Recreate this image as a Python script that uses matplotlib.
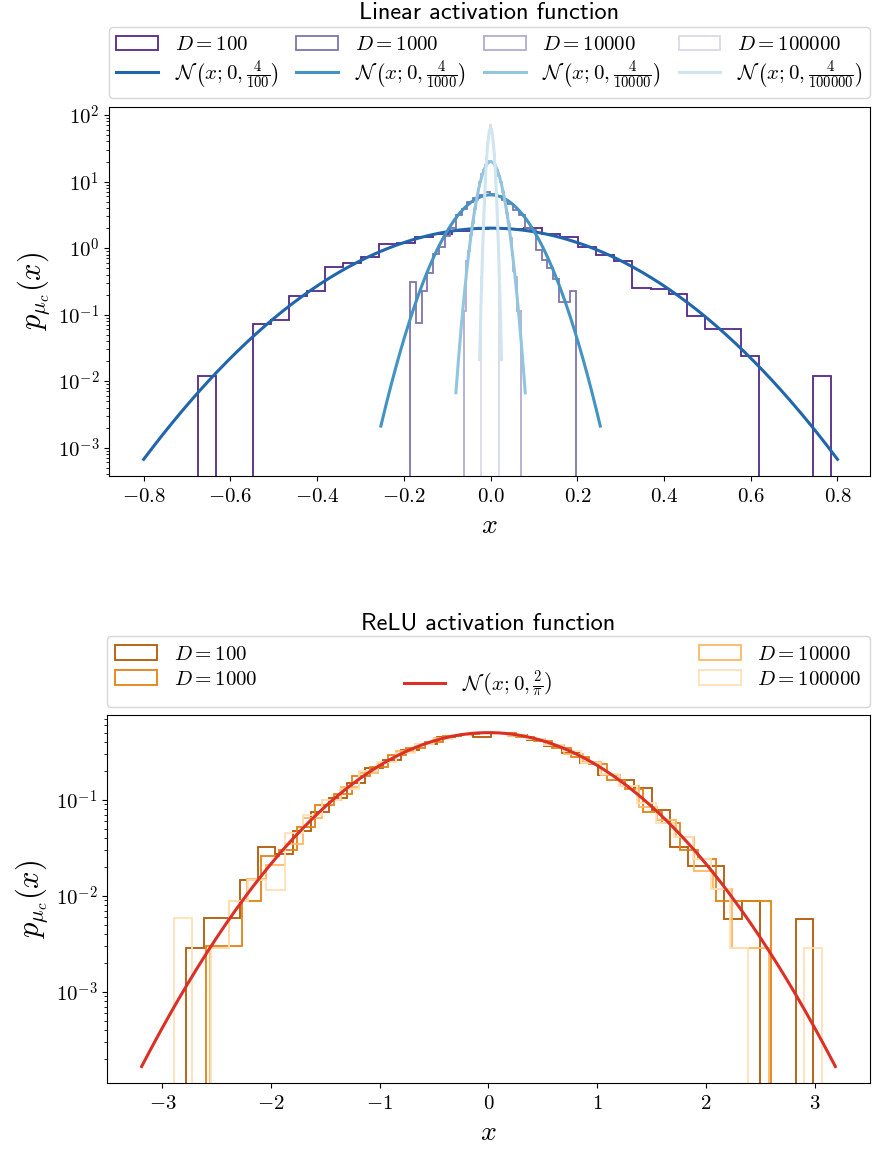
import numpy as np
import matplotlib
matplotlib.use('Agg')
from matplotlib import pyplot as plt
from matplotlib.lines import Line2D
from matplotlib.ticker import FuncFormatter, NullFormatter

plt.rcParams['mathtext.fontset'] = 'cm'
plt.rcParams['font.size'] = 15

dim_labels = ['100', '1000', '10000', '100000']

# Linear activation: histogram ranges and densities
linear_ranges = [(-0.674, 0.786), (-0.185, 0.197), (-0.0605, 0.070), (-0.0221, 0.0200)]
linear_d100 = [0.0119, 0, 0, 0.0723, 0.083, 0.190, 0.226, 0.513, 0.604, 0.743,
               1.15, 1.20, 1.45, 1.63, 1.80, 1.95, 2.0, 1.95, 1.98, 1.61,
               1.47, 1.05, 0.778, 0.64, 0.248, 0.24, 0.204, 0.095, 0.060, 0.060,
               0.024, 0, 0, 0, 0.012]
linear_d1000 = [0.305, 0.076, 0.229, 0.42, 0.81, 1.05, 1.5, 1.98, 3.1, 3.9,
                5.0, 5.6, 6.3, 7.0, 6.6, 6.0, 5.3, 4.6, 3.7, 3.1,
                2.0, 1.9, 0.94, 0.66, 0.50, 0.343, 0.153, 0.153, 0.229]
linear_d10000 = [0.115, 0.63, 0.9, 1.6, 2.4, 3.9, 5.3, 7.7, 9.8, 12.8,
                 15.0, 17.6, 18.8, 20.3, 19.5, 18.9, 16.8, 14.9, 12.0, 9.7,
                 7.0, 5.2, 3.4, 2.3, 1.4, 0.8, 0.46, 0.37, 0.115, 0.115]
linear_d100000 = [0.368, 0.368, 0.74, 1.5, 2.6, 4.4, 6.6, 11.0, 15.4, 22.4,
                  29.0, 37.5, 45.0, 54.0, 58.0, 63.0, 72.0, 61.0, 56.5, 49.0,
                  42.0, 33.0, 25.8, 18.4, 13.2, 8.8, 5.5, 3.3, 1.8, 1.1, 0.368]
linear_hists = [linear_d100, linear_d1000, linear_d10000, linear_d100000]
linear_variances = [0.04, 0.004, 0.0004, 0.00004]

# ReLU activation
relu_ranges = [(-2.785, 2.99), (-2.60, 2.60), (-2.56, 2.58), (-2.898, 3.073)]
relu_d100 = [0.0029, 0.0059, 0.0059, 0.0147, 0.032, 0.027, 0.047, 0.074, 0.105, 0.150,
             0.215, 0.26, 0.33, 0.38, 0.45, 0.47, 0.445, 0.49, 0.47, 0.42,
             0.36, 0.305, 0.24, 0.18, 0.162, 0.132, 0.079, 0.032, 0.0203, 0.0203,
             0.0058, 0.0088, 0, 0, 0.0058]
relu_d1000 = [0.0030, 0.0030, 0.0089, 0.026, 0.030, 0.052, 0.088, 0.115, 0.175, 0.22,
              0.29, 0.345, 0.40, 0.46, 0.48, 0.50, 0.49, 0.45, 0.41, 0.345,
              0.28, 0.235, 0.16, 0.13, 0.075, 0.058, 0.030, 0.024, 0.0089, 0.0089,
              0.0089]
relu_d10000 = [0.0029, 0.0088, 0.015, 0.021, 0.035, 0.065, 0.10, 0.135, 0.19, 0.245,
               0.32, 0.38, 0.44, 0.47, 0.49, 0.50, 0.46, 0.43, 0.37, 0.30,
               0.25, 0.18, 0.14, 0.085, 0.062, 0.041, 0.018, 0.0117, 0.0029, 0.0029]
relu_d100000 = [0.0059, 0, 0.0029, 0.0088, 0.0147, 0.0115, 0.045, 0.07, 0.10, 0.13,
                0.20, 0.25, 0.31, 0.385, 0.43, 0.475, 0.49, 0.50, 0.47, 0.425,
                0.37, 0.32, 0.24, 0.185, 0.14, 0.092, 0.058, 0.041, 0.024, 0.0117,
                0.0029, 0, 0, 0, 0.0029]
relu_hists = [relu_d100, relu_d1000, relu_d10000, relu_d100000]
relu_variance = 0.6366

hist_purples = ['#542788', '#8073ac', '#b2abd2', '#d8daeb']
curve_blues = ['#2166ac', '#4393c3', '#92c5de', '#d1e5f0']
hist_oranges = ['#b35806', '#e08214', '#fdb863', '#fee0b6']
curve_red = '#dc2f26'


def gaussian(variance):
    sd = np.sqrt(variance)
    x = np.linspace(-4 * sd, 4 * sd, 300)
    y = np.exp(-x ** 2 / (2 * variance)) / np.sqrt(2 * np.pi * variance)
    return x, y


def draw_hist(ax, heights, lo, hi, color, label):
    edges = np.linspace(lo, hi, len(heights) + 1)
    _, _, patches = ax.hist(edges[:-1], bins=edges, weights=heights,
                            histtype='step', color=color, linewidth=1.3,
                            log=True, label=label)
    return patches[0]


def style_axes(ax, fmt):
    ax.xaxis.set_major_formatter(FuncFormatter(lambda v, p: fmt % v))
    ax.yaxis.set_major_formatter(
        FuncFormatter(lambda v, p: r'$10^{%d}$' % round(np.log10(v))))
    ax.yaxis.set_minor_formatter(NullFormatter())
    ax.set_xlabel(r'$x$', fontsize=20)
    ax.set_ylabel(r'$p_{\mu_c}(x)$', fontsize=22)


fig = plt.figure(figsize=(8.72, 11.53), dpi=100)
ax1 = fig.add_axes([0.125, 0.5872, 0.8727, 0.32])
ax2 = fig.add_axes([0.1227, 0.0607, 0.875, 0.319])

# top panel
hist_handles = []
for heights, (lo, hi), color, lab in zip(linear_hists, linear_ranges, hist_purples, dim_labels):
    hist_handles.append(draw_hist(ax1, heights, lo, hi, color, r'$D=%s$' % lab))
curve_handles = []
for var, color, lab in zip(linear_variances, curve_blues, dim_labels):
    x, y = gaussian(var)
    line, = ax1.plot(x, y, color=color, linewidth=2.2,
                     label=r'$\mathcal{N}\,\left(x;0,\frac{4}{%s}\right)$' % lab)
    curve_handles.append(line)

ax1.set_yscale('log')
ax1.set_xlim(-0.88, 0.875)
ax1.set_ylim(3.76e-4, 132)
style_axes(ax1, r'$%.1f$')
handles = []
for h, c in zip(hist_handles, curve_handles):
    handles += [h, c]
ax1.legend(handles=handles, labels=[h.get_label() for h in handles], ncol=4,
           loc='lower left', bbox_to_anchor=(0, 1.024, 1, 0.2), mode='expand',
           borderaxespad=0, fontsize=15, handletextpad=0.8, columnspacing=0.5,
           labelspacing=0.2, borderpad=0.35)
ax1.set_title('Linear activation function', family='cmss10', fontsize=17.5, pad=63)

# bottom panel
relu_handles = []
for heights, (lo, hi), color, lab in zip(relu_hists, relu_ranges, hist_oranges, dim_labels):
    relu_handles.append(draw_hist(ax2, heights, lo, hi, color, r'$D=%s$' % lab))
x, y = gaussian(relu_variance)
red_line, = ax2.plot(x, y, color=curve_red, linewidth=2.2,
                     label=r'$\mathcal{N}\,\left(x;0,\frac{2}{\pi}\right)$')

ax2.set_yscale('log')
ax2.set_xlim(-3.51, 3.51)
ax2.set_ylim(1.13e-4, 0.759)
style_axes(ax2, r'$%d$')
blank = Line2D([], [], linestyle='none')
handles = [relu_handles[0], relu_handles[1], blank, red_line, relu_handles[2], relu_handles[3]]
labels = [h.get_label() for h in handles]
labels[2] = ''
ax2.legend(handles=handles, labels=labels, ncol=3, loc='lower left',
           bbox_to_anchor=(0, 1.022, 1, 0.2), mode='expand', borderaxespad=0,
           fontsize=15, handletextpad=0.8, labelspacing=0.25, borderpad=0.4)
ax2.set_title('ReLU activation function', family='cmss10', fontsize=17.5, pad=62)

fig.savefig('out.png', dpi=100)
